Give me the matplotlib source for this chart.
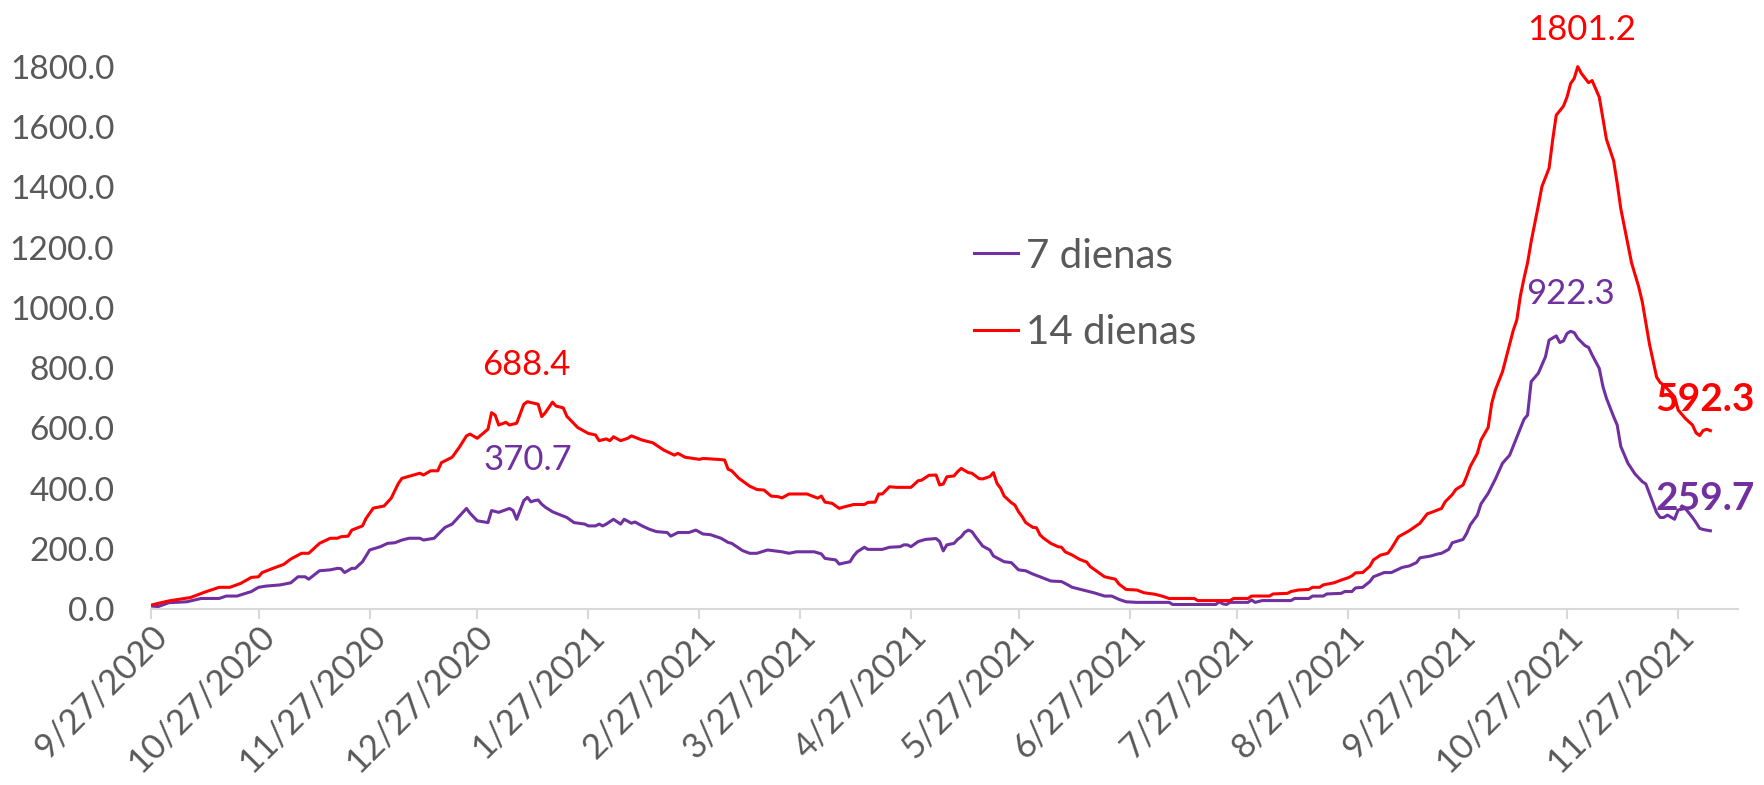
import matplotlib
matplotlib.use('Agg')
import matplotlib.pyplot as plt
import matplotlib.transforms as mtransforms
import pandas as pd

plt.rcParams['font.family'] = ['Lato', 'DejaVu Sans']

start = pd.Timestamp('2020-09-27')

# 14 dienas (dienas skaits no 9/27/2020, vertiba)
days_14 = [0, 5, 11, 15, 19, 22, 25, 28, 30, 31, 34, 37, 39, 42, 44, 47, 50, 52, 53, 55,
           56, 59, 60, 61, 62, 65, 67, 69, 70, 73, 75, 76, 78, 80, 81, 84, 86, 88, 89, 91,
           94, 95, 96, 97, 99, 100, 102, 104, 105, 108, 109, 110, 112, 113, 115, 116, 119, 122, 124, 125,
           127, 128, 129, 131, 133, 134, 137, 140, 143, 146, 147, 149, 153, 154, 158, 160, 161, 162, 164, 167,
           169, 171, 173, 175, 176, 178, 183, 186, 187, 188, 190, 192, 193, 196, 199, 200, 202, 203, 204, 206,
           208, 212, 214, 215, 217, 219, 220, 221, 222, 224, 225, 226, 228, 229, 231, 232, 234, 235, 236, 237,
           238, 240, 241, 242, 243, 244, 246, 247, 248, 249, 251, 253, 254, 255, 257, 259, 261, 262, 264, 266,
           269, 270, 272, 275, 277, 280, 282, 284, 291, 292, 301, 302, 306, 307, 312, 313, 317, 318, 320, 323,
           324, 326, 327, 330, 332, 334, 335, 336, 338, 340, 341, 343, 345, 346, 348, 351, 354, 356, 357, 360,
           361, 363, 364, 366, 367, 368, 370, 371, 373, 374, 375, 377, 379, 380, 381, 382, 383, 384, 385, 386,
           387, 388, 390, 391, 392, 393, 394, 395, 396, 397, 398, 399, 401, 402, 404, 405, 406, 408, 409, 410,
           411, 412, 413, 414, 415, 416, 417, 418, 419, 420, 421, 422, 425, 426, 428, 430, 431, 432, 433, 434,
           435]
vals_14 = [13, 27, 38, 56, 72, 72, 85, 105, 107, 121, 135, 148, 166, 185, 185, 218, 235, 235, 240, 242,
           262, 276, 301, 318, 335, 342, 368, 417, 434, 444, 451, 445, 459, 459, 486, 504, 537, 575, 581, 567,
           597, 652, 644, 611, 620, 611, 617, 680, 688.4, 680, 639, 652, 687, 674, 668, 640, 603, 583, 578, 559,
           565, 559, 572, 559, 567, 575, 561, 552, 528, 511, 517, 504, 497, 500, 497, 495, 464, 459, 434, 408,
           397, 395, 375, 373, 369, 382, 382, 368, 375, 355, 351, 334, 338, 347, 347, 354, 355, 382, 382, 406,
           404, 404, 426, 428, 444, 445, 412, 415, 439, 442, 456, 467, 453, 451, 433, 432, 440, 453, 417, 401,
           375, 353, 345, 323, 307, 287, 271, 270, 246, 235, 218, 207, 205, 190, 179, 165, 156, 141, 124, 107,
           99, 83, 65, 63, 54, 49, 43, 35, 35, 28, 28, 35, 35, 43, 43, 50, 52, 58, 63, 65,
           72, 72, 80, 87, 96, 104, 110, 120, 121, 142, 163, 179, 185, 201, 240, 260, 285, 316, 320, 334,
           356, 380, 397, 412, 440, 473, 517, 561, 603, 683, 727, 788, 880, 925, 960, 1040, 1098, 1150, 1220, 1280,
           1340, 1403, 1464, 1558, 1640, 1655, 1670, 1700, 1745, 1762, 1801.2, 1779, 1748, 1755, 1700, 1630, 1560, 1489, 1414, 1330,
           1270, 1210, 1150, 1110, 1070, 1020, 950, 880, 825, 770, 752, 744, 705, 661, 633, 611, 585, 576, 593, 597,
           592.3]

# 7 dienas
days_7 = [0, 2, 5, 10, 14, 19, 21, 24, 28, 30, 32, 36, 39, 41, 43, 44, 47, 50, 52, 53,
          54, 56, 57, 59, 61, 64, 66, 68, 70, 72, 75, 76, 79, 82, 84, 88, 89, 91, 94, 95,
          97, 100, 101, 102, 104, 105, 106, 107, 108, 109, 110, 112, 113, 116, 118, 121, 122, 124, 125, 126,
          127, 129, 131, 132, 134, 135, 137, 139, 141, 144, 145, 147, 150, 152, 154, 156, 159, 161, 162, 165,
          167, 169, 172, 176, 178, 180, 185, 187, 188, 191, 192, 193, 195, 196, 197, 199, 200, 204, 206, 209,
          210, 211, 212, 214, 216, 219, 220, 221, 222, 224, 225, 226, 227, 228, 229, 230, 232, 234, 235, 238,
          240, 242, 244, 246, 248, 251, 254, 255, 257, 260, 263, 266, 268, 270, 272, 275, 284, 285, 297, 298,
          299, 300, 301, 306, 307, 308, 310, 318, 319, 323, 324, 327, 328, 332, 333, 335, 336, 338, 340, 341,
          344, 346, 349, 351, 353, 354, 357, 359, 360, 362, 363, 366, 367, 368, 370, 371, 373, 375, 377, 379,
          380, 382, 383, 384, 385, 387, 389, 390, 392, 393, 394, 395, 396, 397, 398, 400, 401, 402, 404, 405,
          406, 408, 409, 410, 412, 414, 416, 417, 419, 420, 421, 422, 423, 425, 426, 428, 430, 431, 432, 433,
          435]
vals_7 = [10, 8, 21, 24, 35, 35, 43, 43, 58, 72, 76, 80, 87, 107, 107, 99, 127, 130, 135, 134,
          121, 135, 135, 157, 196, 207, 218, 220, 229, 235, 235, 229, 235, 271, 282, 334, 318, 293, 287, 327,
          321, 334, 327, 298, 360, 370.7, 356, 360, 362, 348, 338, 323, 318, 304, 287, 282, 276, 276, 282, 276,
          282, 298, 282, 298, 285, 289, 276, 265, 257, 254, 242, 254, 254, 262, 249, 247, 235, 221, 218, 194,
          185, 185, 196, 190, 185, 190, 190, 183, 168, 163, 149, 152, 157, 176, 190, 205, 198, 198, 205, 207,
          213, 213, 207, 224, 231, 234, 224, 193, 213, 218, 231, 240, 255, 262, 257, 240, 209, 196, 176, 157,
          154, 130, 127, 116, 107, 93, 91, 85, 72, 63, 54, 43, 43, 32, 24, 22, 22, 15, 15, 24,
          17, 15, 22, 22, 30, 22, 28, 28, 35, 35, 43, 43, 50, 52, 58, 58, 70, 72, 91, 107,
          121, 121, 138, 143, 154, 170, 176, 183, 185, 198, 220, 231, 251, 279, 312, 349, 384, 431, 484, 511,
          541, 600, 630, 644, 755, 783, 838, 893, 907, 885, 890, 915, 922.3, 918, 899, 875, 869, 844, 799, 740,
          700, 639, 611, 540, 484, 448, 423, 415, 351, 320, 304, 304, 312, 298, 329, 334, 304, 287, 268, 264,
          259.7]

# uznemamas vertibas (diena, vertiba, krasa, treknraksts, nobide punktos)
labels = [
    (105, 688.4, '#FF0000', False, (-1, 19.2)),
    (105, 370.7, '#7030A0', False, (0, 19.7)),
    (398, 1801.2, '#FF0000', False, (2.7, 19.2)),
    (396, 922.3, '#7030A0', False, (0, 19.4)),
    (435, 592.3, '#FF0000', True, (-4, 14.4)),
    (435, 259.7, '#7030A0', True, (-3.6, 15.0)),
]

tick_dates = [start + pd.DateOffset(months=i) for i in range(15)]
tick_text = [f'{d.month}/{d.day}/{d.year}' for d in tick_dates]

W, H = 1764, 785
fig = plt.figure(figsize=(W / 100, H / 100), dpi=100)
ax = fig.add_axes([151 / W, 1 - 609 / H, (1738 - 151) / W, (609 - 6.8) / H])

x14 = start + pd.to_timedelta(days_14, unit='D')
x7 = start + pd.to_timedelta(days_7, unit='D')
ax.plot(x7, vals_7, color='#7030A0', lw=2.2, label='7 dienas')
ax.plot(x14, vals_14, color='#FF0000', lw=2.2, label='14 dienas')

ax.set_ylim(0, 2000)
ax.set_xlim(start, start + pd.Timedelta(days=442.7))
ax.set_yticks(range(0, 2000, 200))
ax.set_yticklabels([f'{v:.1f}' for v in range(0, 2000, 200)])
ax.tick_params(axis='y', length=0, pad=26.5, labelsize=24, labelcolor='#595959')

ax.set_xticks(tick_dates)
ax.set_xticklabels([])
ax.tick_params(axis='x', direction='out', length=7.2, width=1.5, color='#D9D9D9')
off = mtransforms.ScaledTranslation(7.5 / 72, -15.5 / 72, fig.dpi_scale_trans)
for d, t in zip(tick_dates, tick_text):
    ax.text(d, 0, t, transform=ax.get_xaxis_transform() + off, rotation=45,
            rotation_mode='anchor', ha='right', va='center', fontsize=25,
            color='#595959', clip_on=False)

for s in ['top', 'right', 'left']:
    ax.spines[s].set_visible(False)
ax.spines['bottom'].set_color('#D9D9D9')
ax.spines['bottom'].set_linewidth(1.5)

for day, val, col, bold, (dx, dy) in labels:
    ax.annotate(f'{val:.1f}', xy=(start + pd.Timedelta(days=day), val), xytext=(dx, dy),
                textcoords='offset points', ha='center', va='baseline',
                fontsize=28 if bold else 25, color=col,
                fontweight='bold' if bold else 'normal', annotation_clip=False)

leg = ax.legend(loc='center left', bbox_to_anchor=(974 / W, 1 - 294.25 / H),
                bbox_transform=fig.transFigure, frameon=False, fontsize=29,
                handlelength=1.09, handletextpad=0.2, labelspacing=0.98, borderpad=0,
                borderaxespad=0)
for t in leg.get_texts():
    t.set_color('#595959')

fig.savefig('out.png', dpi=100)
